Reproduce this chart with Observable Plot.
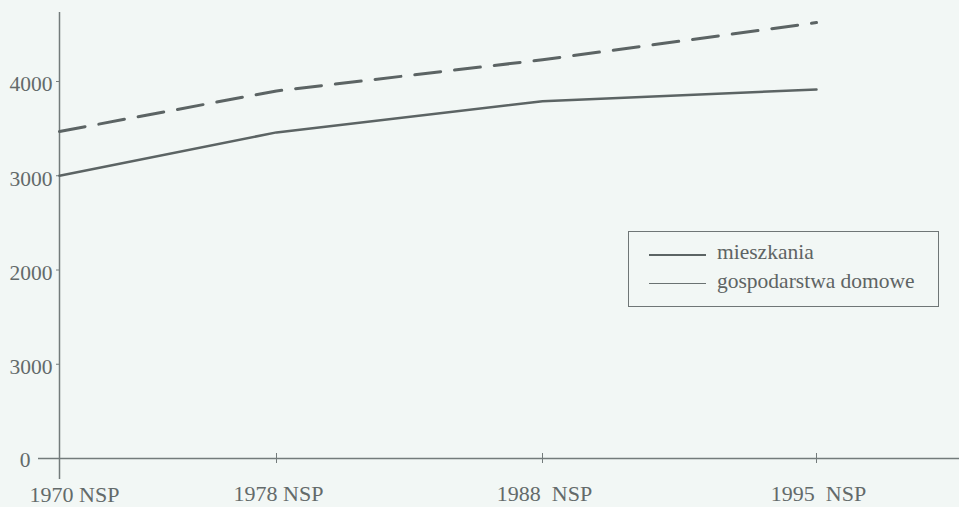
<!DOCTYPE html>
<html>
<head>
<meta charset="utf-8">
<script src="https://cdn.jsdelivr.net/npm/d3@7"></script>
<script src="https://cdn.jsdelivr.net/npm/@observablehq/plot@0.6"></script>
<style>
  html, body { margin: 0; padding: 0; background: #f2f7f5; }
  #wrap { position: relative; width: 959px; height: 507px; overflow: hidden; }
  #legend {
    position: absolute; left: 628px; top: 231px; width: 311px; height: 76px;
    border: 1.5px solid #6f7676; box-sizing: border-box;
    font-family: "Liberation Serif", serif; font-size: 21.5px; color: #5e6464;
  }
  .sw { position: absolute; left: 20px; width: 57px; }
  .lab { position: absolute; left: 88px; white-space: nowrap; line-height: 24px; }
</style>
</head>
<body>
<div id="wrap">
  <div id="chart"></div>
  <div id="legend">
    <div class="sw" style="top:22px;border-top:2.5px solid #5c6464;"></div>
    <div class="lab" style="top:8px;">mieszkania</div>
    <div class="sw" style="top:51px;border-top:1.5px solid #6a7272;"></div>
    <div class="lab" style="top:37px;">gospodarstwa domowe</div>
  </div>
</div>
<script>
// ---- data ----
const years = [1970, 1978, 1988, 1995];
const yearLabels = ["1970 NSP", "1978 NSP", "1988  NSP", "1995  NSP"];
const mieszkania = [3000, 3460, 3790, 3915];
const gospodarstwa = [3470, 3900, 4230, 4625];
const yTickValues = [0, 1000, 2000, 3000, 4000];
const yTickLabels = ["0", "3000", "2000", "3000", "4000"];

const solid = years.map((y, i) => ({year: y, value: mieszkania[i]}));
const dashed = years.map((y, i) => ({year: y, value: gospodarstwa[i]}));
const xTicks = years.map((y, i) => ({year: y, label: yearLabels[i]}));
const yTicks = yTickValues.map((v, i) => ({value: v, label: yTickLabels[i]}));

const ink = "#5c6464";
const axisInk = "#737b7b";
const textInk = "#636a6a";
const font = "Liberation Serif";

const chart = Plot.plot({
  width: 959,
  height: 507,
  marginLeft: 38,
  marginRight: 0,
  marginTop: 12,
  marginBottom: 28,
  style: {background: "transparent", fontFamily: font, whiteSpace: "pre"},
  x: {type: "linear", domain: years, range: [59, 276, 542, 816], axis: null},
  y: {domain: [0, 4000], range: [458, 81], axis: null},
  marks: [
    // axes lines
    Plot.ruleY([0], {stroke: axisInk, strokeWidth: 1.5}),
    Plot.ruleX([years[0]], {stroke: axisInk, strokeWidth: 1.5}),
    // x tick marks crossing axis
    Plot.ruleX(years.slice(1), {x: d => d, y1: 0, y2: 0, insetTop: -5, insetBottom: -5, stroke: axisInk, strokeWidth: 1}),
    // y tick marks
    Plot.ruleY(yTickValues.slice(1), {y: d => d, x1: years[0], x2: years[0], insetLeft: -3, insetRight: -1, stroke: axisInk, strokeWidth: 1}),
    // x labels
    Plot.text(xTicks.slice(0, 1), {x: "year", y: 0, text: "label", dy: 36, dx: 15, fontSize: 22, fill: textInk, fontFamily: font}),
    Plot.text(xTicks.slice(1), {x: "year", y: 0, text: "label", dy: 35, dx: 2, fontSize: 22, fill: textInk, fontFamily: font}),
    // y labels
    Plot.text(yTicks.slice(1), {x: years[0], y: "value", text: "label", dx: -7, dy: 3, textAnchor: "end", fontSize: 21.5, fill: textInk, fontFamily: font}),
    Plot.text(yTicks.slice(0, 1), {x: years[0], y: "value", text: "label", dx: -29, dy: 2, textAnchor: "end", fontSize: 21.5, fill: textInk, fontFamily: font}),
    // series
    Plot.line(dashed, {x: "year", y: "value", stroke: ink, strokeWidth: 3, strokeDasharray: "26,14"}),
    Plot.line(solid, {x: "year", y: "value", stroke: ink, strokeWidth: 2.5})
  ]
});
document.getElementById("chart").appendChild(chart);
</script>
</body>
</html>
